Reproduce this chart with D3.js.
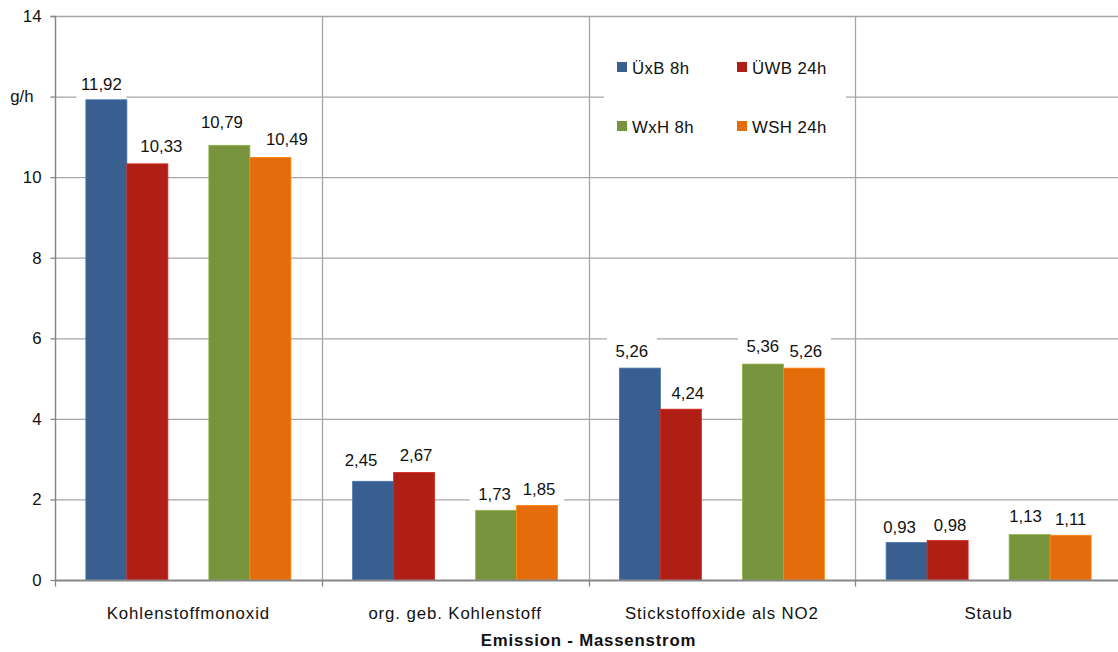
<!DOCTYPE html>
<html><head><meta charset="utf-8">
<script src="https://cdn.jsdelivr.net/npm/d3@7"></script>
<style>body{margin:0;background:#fff}svg{display:block;font-family:"Liberation Sans",Arial,sans-serif}</style>
</head><body><svg id="c" width="1118" height="652"></svg>
<script>
const categories = ["Kohlenstoffmonoxid","org. geb. Kohlenstoff","Stickstoffoxide als NO2","Staub"];
const seriesNames = ["ÜxB 8h","ÜWB 24h","WxH 8h","WSH 24h"];
const seriesColors = ["#385f8f","#b01f15","#77933c","#e46c0a"];
const uxb8 = [11.92, 2.45, 5.26, 0.93];
const uwb24 = [10.33, 2.67, 4.24, 0.98];
const wxh8 = [10.79, 1.73, 5.36, 1.13];
const wsh24 = [10.49, 1.85, 5.26, 1.11];
const seriesValues = [uxb8, uwb24, wxh8, wsh24];
const yTicks = [0,2,4,6,8,10,12,14];
const yTickLabels = ["0","2","4","6","8","10","g/h","14"];
const xTitle = "Emission - Massenstrom";
// label placement nudges (as placed by the original chart tool), px: [dx, gap above bar]
const labelDx = [[-5,-12,-8,-7],[14,2,7,2.5],[-7.5,-1.5,0,-4],[16.5,2,2,0]];
const labelGap = [[10,15,11,10],[12,11,10,10],[17,10,12,12],[12,10,11,10]];

const svg = d3.select("#c");
const L = 55, R = 1122, T = 16, B = 580;
const FS = 16.8;
const x = d3.scaleBand().domain(categories).range([L, R]).paddingInner(0).paddingOuter(0);
// 5 slots, the middle one empty
const slots = [0,1,3,4];
const xs = d3.scaleBand().domain(d3.range(5)).range([0, x.bandwidth()]).paddingInner(0).paddingOuter(0.753);
const y = d3.scaleLinear().domain([0,14]).range([B, T]);

const grid = "#a6a6a6", axisC = "#868686";
svg.append("g").selectAll("line").data(yTicks.filter(d=>d>0)).join("line")
  .attr("x1", L).attr("x2", 1118).attr("y1", d=>y(d)+0.5).attr("y2", d=>y(d)+0.5)
  .attr("stroke", grid).attr("stroke-width", 1.3);
svg.append("g").selectAll("line").data(categories.slice(1)).join("line")
  .attr("x1", d=>Math.round(x(d))+0.5).attr("x2", d=>Math.round(x(d))+0.5).attr("y1", T).attr("y2", B)
  .attr("stroke", grid).attr("stroke-width", 1.3);

const fmt = v => d3.format(".2f")(v).replace(".", ",");
const bars = [];
seriesValues.forEach((vals, si) => vals.forEach((v, ci) => bars.push({si, ci, v})));
const bx = d => x(categories[d.ci]) + xs(slots[d.si]);
const lx = d => bx(d) + xs.bandwidth()/2 + labelDx[d.si][d.ci];
const ly = d => y(d.v) - labelGap[d.si][d.ci];

// label backgrounds (hide gridlines only)
svg.append("g").selectAll("rect").data(bars).join("rect")
  .attr("x", d=>lx(d) - 25).attr("y", d=>ly(d) - 20)
  .attr("width", 50).attr("height", 29).attr("fill", "#fff");

// legend box
const lg = svg.append("g");
lg.append("rect").attr("x", 604).attr("y", 30).attr("width", 242).attr("height", 130).attr("fill", "#fff");
seriesNames.forEach((n, i) => {
  const gx = 617 + (i%2)*120, gy = 68 + Math.floor(i/2)*59;
  lg.append("rect").attr("x", gx).attr("y", gy-6).attr("width", 10).attr("height", 10).attr("fill", seriesColors[i]);
  lg.append("text").attr("x", gx+15).attr("y", gy+5.5).attr("font-size", FS).attr("letter-spacing", 0.4)
    .attr("fill", "#111").text(n);
});

// bars
svg.append("g").selectAll("rect").data(bars).join("rect")
  .attr("x", bx).attr("width", xs.bandwidth())
  .attr("y", d=>y(d.v)).attr("height", d=>B - y(d.v))
  .attr("fill", d=>seriesColors[d.si])
  .attr("stroke", d=>d3.color(seriesColors[d.si]).brighter(0.6)).attr("stroke-width", 0.8);

// labels
svg.append("g").selectAll("text").data(bars).join("text")
  .attr("x", lx).attr("y", ly).attr("text-anchor", "middle")
  .attr("font-size", FS).attr("fill", "#111").text(d=>fmt(d.v));

// axes
const ya = svg.append("g").attr("transform", `translate(${L+0.5},0)`)
  .call(d3.axisLeft(y).tickValues(yTicks).tickSize(5).tickPadding(9).tickFormat((d,i)=>yTickLabels[i]));
ya.select(".domain").attr("stroke", axisC).attr("stroke-width", 1.5).attr("d", `M-5,${T+0.5}H0V${B}`);
ya.selectAll(".tick line").attr("stroke", axisC).attr("stroke-width", 1.3);
ya.selectAll(".tick text").attr("font-size", FS).attr("fill", "#111").attr("font-family", "Liberation Sans, Arial, sans-serif");
ya.selectAll(".tick").filter(d=>d===12).select("text").attr("x", -22);

const xa = svg.append("g").attr("transform", `translate(0,${B+0.5})`);
xa.append("line").attr("x1", L).attr("x2", 1118).attr("stroke", axisC).attr("stroke-width", 2);
xa.selectAll("line.t").data(categories.concat(["_end"])).join("line").attr("class","t")
  .attr("x1", (d,i)=>Math.round(L + i*x.step())+0.5).attr("x2", (d,i)=>Math.round(L + i*x.step())+0.5)
  .attr("y1", 0).attr("y2", 6).attr("stroke", axisC).attr("stroke-width", 1.3);
xa.selectAll("text").data(categories).join("text")
  .attr("x", d=>x(d)+x.bandwidth()/2).attr("y", 38).attr("text-anchor","middle")
  .attr("font-size", FS).attr("letter-spacing", 0.9).attr("fill", "#111").text(d=>d);

svg.append("text").attr("x", (L+R)/2).attr("y", 646).attr("text-anchor","middle")
  .attr("font-size", FS).attr("letter-spacing", 0.8).attr("font-weight","bold").attr("fill","#111").text(xTitle);
</script></body></html>
